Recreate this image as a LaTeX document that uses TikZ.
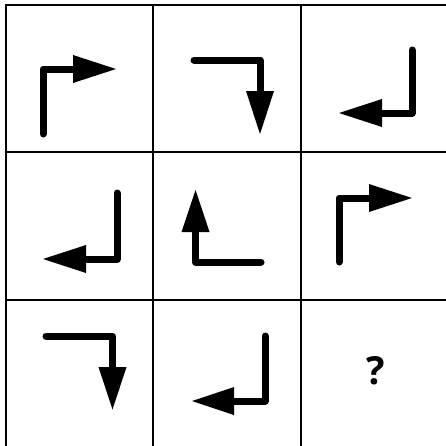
\documentclass[tikz,border=0pt]{standalone}
\usepackage{fontspec}
\setmainfont{Open Sans}
\begin{document}
\begin{tikzpicture}[x=0.75pt,y=-0.75pt,
  gridline/.style={line width=1.5pt,black},
  stem/.style={line width=5.25pt,black,line cap=round,line join=round},
  head/.style={fill=black}]
\useasboundingbox (0,0) rectangle (446,446);
% grid
\draw[gridline] (6,5) rectangle (448.5,447);
\draw[gridline] (153,5) -- (153,447);
\draw[gridline] (301,5) -- (301,447);
\draw[gridline] (6,151.5) -- (448.5,151.5);
\draw[gridline] (6,299.5) -- (448.5,299.5);
% cell 1
\draw[stem] (43,134) -- (43,69) -- (75,69);
\fill[head] (73,55) -- (116,69) -- (73,83) -- cycle;
% cell 2
\draw[stem] (194,60) -- (260,60) -- (260,93);
\fill[head] (246,91) -- (260,134) -- (274,91) -- cycle;
% cell 3
\draw[stem] (412,50) -- (412,113) -- (380,113);
\fill[head] (382,99) -- (339,113) -- (382,127) -- cycle;
% cell 4
\draw[stem] (117,193) -- (117,259) -- (84,259);
\fill[head] (86,245) -- (43,259) -- (86,273) -- cycle;
% cell 5
\draw[stem] (261,262) -- (195.5,262) -- (195.5,230);
\fill[head] (181.5,232) -- (195.5,190) -- (209.5,232) -- cycle;
% cell 6
\draw[stem] (339,262) -- (339,198) -- (371,198);
\fill[head] (369,184) -- (412,198) -- (369,212) -- cycle;
% cell 7
\draw[stem] (46,336) -- (112.5,336) -- (112.5,369);
\fill[head] (98.5,367) -- (112.5,409.5) -- (126.5,367) -- cycle;
% cell 8
\draw[stem] (265,336) -- (265,401) -- (232,401);
\fill[head] (234,387) -- (192,401) -- (234,415) -- cycle;
% cell 9
\node[font=\bfseries\fontsize{29}{33}\selectfont,inner sep=0pt] (q) at (376,371) {?};
\end{tikzpicture}
\end{document}
